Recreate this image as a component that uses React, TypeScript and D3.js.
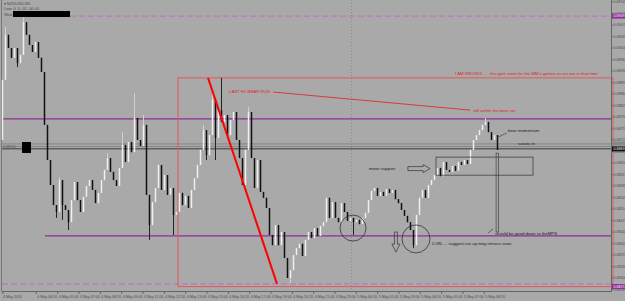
import React from 'react';
import * as d3 from 'd3';

const W = 625;
const H = 301;

// NZDUSD M5 closes, first open
const firstOpen = 0.6872;
const closes = [
  0.68903, 0.6904, 0.69, 0.6897, 0.69, 0.68954, 0.68979, 0.69079, 0.6904, 0.69009,
  0.68988, 0.69018, 0.6897, 0.68927, 0.68766, 0.68659, 0.68583, 0.68522, 0.68501, 0.68598,
  0.68522, 0.68507, 0.6847, 0.68537, 0.68592, 0.68537, 0.68501, 0.68547, 0.6858, 0.68598,
  0.68568, 0.68528, 0.68559, 0.68598, 0.68629, 0.68665, 0.68623, 0.68598, 0.6858, 0.68635,
  0.68705, 0.68653, 0.68714, 0.68683, 0.68787, 0.6872, 0.68702, 0.68766, 0.68553, 0.68461,
  0.68531, 0.68574, 0.68644, 0.68568, 0.68613, 0.68553, 0.68574, 0.68492, 0.68501, 0.68559,
  0.68522, 0.6855, 0.68513, 0.68568, 0.68604, 0.68644, 0.6869, 0.6875, 0.68674, 0.68735,
  0.68842, 0.68726, 0.68811, 0.68775, 0.68796, 0.68735, 0.68781, 0.68805, 0.6872, 0.68665,
  0.68583, 0.6869, 0.68805, 0.68665, 0.68574, 0.68659, 0.68562, 0.68544, 0.68513, 0.68431,
  0.684, 0.68461, 0.684, 0.6844, 0.68361, 0.683, 0.68324, 0.6837, 0.68391, 0.68404,
  0.68367, 0.68416, 0.6844, 0.68422, 0.68452, 0.68428, 0.68458, 0.6847, 0.68544, 0.68483,
  0.68531, 0.68483, 0.6847, 0.68528, 0.68501, 0.68474, 0.68483, 0.6847, 0.68477, 0.68464,
  0.68483, 0.68498, 0.68537, 0.68565, 0.68574, 0.6855, 0.68562, 0.6855, 0.68571, 0.68559,
  0.68568, 0.6854, 0.68528, 0.68507, 0.68489, 0.6847, 0.68446, 0.684, 0.68492, 0.68544,
  0.68568, 0.68544, 0.68583, 0.68598, 0.68613, 0.68635, 0.6861, 0.68653, 0.68629, 0.68623,
  0.68641, 0.68626, 0.68653, 0.68644, 0.68659, 0.68647, 0.6869, 0.6872, 0.68735, 0.6875,
  0.68766, 0.68775, 0.68744, 0.6872, 0.68735, 0.6869,
];
// notable wicks: [candle index, price]
const wickHighs: [number, number][] = [
  [1, 0.69064], [7, 0.691], [19, 0.68607], [35, 0.6868], [40, 0.68744], [44, 0.68863],
  [47, 0.68796], [67, 0.68766], [70, 0.68863], [72, 0.6882], [73, 0.68909], [82, 0.6882],
  [161, 0.68787],
];
const wickLows: [number, number][] = [
  [5, 0.68942], [18, 0.68483], [20, 0.68477], [22, 0.68446], [49, 0.68416], [57, 0.68431],
  [68, 0.68659], [71, 0.68659], [96, 0.68285], [117, 0.68431], [137, 0.68391],
];

const priceTicks = [
  0.6914, 0.69105, 0.6907, 0.69035, 0.69, 0.68965, 0.6893, 0.68895, 0.6886, 0.68825,
  0.6879, 0.68755, 0.6872, 0.68685, 0.6865, 0.68615, 0.6858, 0.68545, 0.6851, 0.68475,
  0.6844, 0.68405, 0.6837, 0.68335, 0.683, 0.68265,
];
const timeTicks = [
  '2016-05-04 04:20', '2016-05-04 05:40', '2016-05-04 07:00', '2016-05-04 08:20',
  '2016-05-04 09:40', '2016-05-04 11:00', '2016-05-04 12:20', '2016-05-04 13:40',
  '2016-05-04 15:00', '2016-05-04 16:20', '2016-05-04 17:40', '2016-05-04 19:00',
  '2016-05-04 20:20', '2016-05-04 21:40', '2016-05-04 23:00', '2016-05-05 00:20',
  '2016-05-05 01:40', '2016-05-05 03:00', '2016-05-05 04:20', '2016-05-05 05:40',
  '2016-05-05 07:00', '2016-05-05 08:20',
];
const firstTimeLabel = '4 May 2016';

// horizontal levels
const dashedLevels = [0.69097, 0.68282];
const purpleLevels = [0.68784, 0.68428];
const grayLevels = [0.68708, 0.687, 0.68693];
const redBox = { i0: 58.67, top: 0.68909, bottom: 0.68274 };

const FONT = 'Liberation Sans, Arial, sans-serif';

export default function App() {
  const x = d3.scaleLinear().domain([0, closes.length - 1]).range([2, 497]);
  const y = d3.scaleLinear().domain([0.682605, 0.69146]).range([291, 0]);
  const parse = d3.timeParse('%Y-%m-%d %H:%M');
  const fmt = d3.timeFormat('%-d %b %H:%M');
  const tx = d3
    .scaleTime()
    .domain([new Date(2016, 4, 4, 0, 0), new Date(2016, 4, 5, 0, 0)])
    .range([351 - 384, 351]);
  const right = 611;

  const hiMap = new Map(wickHighs);
  const loMap = new Map(wickLows);
  const candles = closes.map((c, i) => {
    const o = i === 0 ? firstOpen : closes[i - 1];
    const hi = Math.max(o, c, hiMap.get(i) ?? 0);
    const lo = Math.min(o, c, loMap.get(i) ?? 9);
    return { i, o, c, hi, lo, bull: c >= o };
  });

  const red = '#e31d1d';
  const purple = '#8e2f96';
  const dashPurple = '#c06cc4';
  const boxRed = '#df5a5a';

  return (
    <svg
      width={W}
      height={H}
      style={{ position: 'absolute', left: 0, top: 0, background: '#a9a9a9' }}
      fontFamily={FONT}
    >
      <rect x={0} y={0} width={W} height={H} fill="#a9a9a9" />
      {/* frame */}
      <line x1={1.5} y1={0} x2={1.5} y2={291} stroke="#777" strokeWidth={1} />
      <line x1={right + 0.5} y1={0} x2={right + 0.5} y2={292} stroke="#666" strokeWidth={1} />
      <line x1={1.5} y1={291.5} x2={right + 0.5} y2={291.5} stroke="#666" strokeWidth={1} />

      {/* day separator */}
      <line
        x1={tx(new Date(2016, 4, 5, 0, 0)) + 0.5}
        y1={0}
        x2={tx(new Date(2016, 4, 5, 0, 0)) + 0.5}
        y2={291}
        stroke="#8a8a8a"
        strokeDasharray="1,2"
      />

      {/* dashed purple levels */}
      {dashedLevels.map((p, k) => (
        <line
          key={'d' + k}
          x1={k === 0 ? 70 : 2}
          x2={right}
          y1={y(p)}
          y2={y(p)}
          stroke={dashPurple}
          strokeWidth={1}
          strokeDasharray="6,3"
        />
      ))}
      {/* gray levels */}
      {grayLevels.map((p, k) => (
        <line
          key={'g' + k}
          x1={2}
          x2={right}
          y1={y(p)}
          y2={y(p)}
          stroke={k === 2 ? '#5e5e5e' : '#858585'}
          strokeWidth={k === 2 ? 1.5 : 1}
        />
      ))}
      {/* purple levels */}
      {purpleLevels.map((p, k) => (
        <line
          key={'p' + k}
          x1={k === 0 ? 2 : 45}
          x2={right}
          y1={y(p)}
          y2={y(p)}
          stroke={purple}
          strokeWidth={1.2}
        />
      ))}
      {/* red box */}
      <rect
        x={x(redBox.i0)}
        y={y(redBox.top)}
        width={right - x(redBox.i0) + 2}
        height={y(redBox.bottom) - y(redBox.top)}
        fill="none"
        stroke={boxRed}
        strokeWidth={1}
      />

      {/* candles */}
      {candles.map((d) => {
        const cx = x(d.i);
        const top = y(Math.max(d.o, d.c));
        const bot = y(Math.min(d.o, d.c));
        const col = d.bull ? '#f0f0f0' : '#111';
        return (
          <g key={d.i}>
            <line x1={cx + 0.5} x2={cx + 0.5} y1={y(d.hi)} y2={y(d.lo)} stroke={d.bull ? '#d0d0d0' : '#222'} strokeWidth={1} />
            <rect x={cx - 0.25} y={top} width={1.5} height={Math.max(1, bot - top)} fill={col} />
          </g>
        );
      })}

      {/* thick red trend line */}
      <line x1={x(68.67)} y1={y(0.68909)} x2={x(91.67)} y2={y(0.68282)} stroke="#ff0000" strokeWidth={2} />
      {/* thin red line */}
      <line x1={x(90.33)} y1={y(0.68866)} x2={x(156)} y2={y(0.68811)} stroke={red} strokeWidth={0.8} />

      {/* annotation shapes */}
      <circle cx={x(117)} cy={y(0.68452)} r={13} fill="none" stroke="#222" strokeWidth={0.7} />
      <circle cx={x(138)} cy={y(0.68419)} r={14} fill="none" stroke="#222" strokeWidth={0.7} />
      {/* down arrow */}
      {(() => {
        const ax = x(131.3);
        const t = y(0.6844);
        const b = y(0.68379);
        const p = `M${ax - 1.5},${t} L${ax + 1.5},${t} L${ax + 1.5},${b - 8} L${ax + 4},${b - 8} L${ax},${b} L${ax - 4},${b - 8} L${ax - 1.5},${b - 8} Z`;
        return <path d={p} fill="none" stroke="#333" strokeWidth={0.7} />;
      })()}
      {/* right arrow */}
      {(() => {
        const l = x(135.3);
        const r = x(142.7);
        const cy = y(0.68633);
        const p = `M${l},${cy - 2} L${r - 7},${cy - 2} L${r - 7},${cy - 4} L${r},${cy} L${r - 7},${cy + 4} L${r - 7},${cy + 2} L${l},${cy + 2} Z`;
        return <path d={p} fill="none" stroke="#333" strokeWidth={0.7} />;
      })()}
      {/* minor support box */}
      <rect x={x(144.67)} y={y(0.68668)} width={x(177) - x(144.67)} height={y(0.68613) - y(0.68668)} fill="none" stroke="#333" strokeWidth={0.7} />
      {/* vertical projection */}
      <rect x={x(164.7)} y={y(0.6868)} width={2.5} height={y(0.6844) - y(0.6868)} fill="none" stroke="#333" strokeWidth={0.6} />
      {/* leader lines */}
      <line x1={x(165)} y1={y(0.68727)} x2={x(168.3)} y2={y(0.68742)} stroke="#333" strokeWidth={0.6} />
      <line x1={x(162)} y1={y(0.68437)} x2={x(163.7)} y2={y(0.68449)} stroke="#333" strokeWidth={0.6} />

      {/* texts */}
      <g fontSize={4.3}>
        <text x={x(75.67)} y={y(0.68863)} fill={red}>LAST H1 BEAR RUN</text>
        <text x={x(151)} y={y(0.68917)} fill={red}>I AM WRONG ..... this give room for the MM's games as we are in that time</text>
        <text x={x(157)} y={y(0.68806)} fill={red}>still within the bear run</text>
        <text x={x(168.7)} y={y(0.68744)} fill="#1a1a1a">bear momentum</text>
        <text x={x(172)} y={y(0.68704)} fill="#1a1a1a">scouts in</text>
        <text x={x(122.3)} y={y(0.68630)} fill="#1a1a1a">minor support</text>
        <text x={x(164.3)} y={y(0.68432)} fill="#1a1a1a">should be good down to theMPS</text>
        <text x={x(143.3)} y={y(0.68400)} fill="#1a1a1a">LOW..... suggest run up may retrace soon</text>
      </g>

      {/* top-left info */}
      <g fontSize={4} fill="#4a4a4a">
        <text x={4} y={5}>▾ NZDUSD,M5</text>
        <text x={4} y={10}>Low: 0. 0. 01. 00 00</text>
        <text x={4} y={15.5}>Shot:</text>
      </g>
      <rect x={13} y={11} width={57} height={6} fill="#000" />
      {/* left label on gray levels */}
      <text x={3} y={y(0.687) + 1.3} fontSize={3.5} fill="#555">0.68700</text>
      <rect x={22} y={142} width={9} height={11} fill="#000" />

      {/* price axis */}
      <g fontSize={3.6} fill="#4a4a4a">
        {priceTicks.map((p) => (
          <g key={p}>
            <line x1={right} x2={right + 2} y1={y(p)} y2={y(p)} stroke="#666" />
            <text x={right + 2.5} y={y(p) + 1.3}>{p.toFixed(5)}</text>
          </g>
        ))}
      </g>
      {/* axis highlights */}
      <rect x={right + 1} y={y(0.69097) - 2.5} width={13} height={5} fill={purple} />
      <text x={right + 2.5} y={y(0.69097) + 1.3} fontSize={3.6} fill="#fff">0.69097</text>
      <rect x={right + 1} y={y(0.68708) - 2.5} width={13} height={4} fill="#888" />
      <rect x={right + 1} y={y(0.68693) - 2.5} width={13} height={5} fill="#111" />
      <text x={right + 2.5} y={y(0.68693) + 1.3} fontSize={3.6} fill="#fff">0.68693</text>
      <rect x={right + 1} y={y(0.68274) - 2.5} width={13} height={5} fill={purple} />
      <text x={right + 2.5} y={y(0.68274) + 1.3} fontSize={3.6} fill="#fff">0.68274</text>

      {/* time axis */}
      <g fontSize={3.6} fill="#4a4a4a">
        <line x1={3} x2={3} y1={291} y2={294} stroke="#666" />
        <text x={3} y={297.5}>{firstTimeLabel}</text>
        {timeTicks.map((s) => {
          const d = parse(s) as Date;
          const px = tx(d);
          return (
            <g key={s}>
              <line x1={px} x2={px} y1={291} y2={294} stroke="#666" />
              <text x={px + 1} y={297.5}>{fmt(d)}</text>
            </g>
          );
        })}
      </g>
    </svg>
  );
}
